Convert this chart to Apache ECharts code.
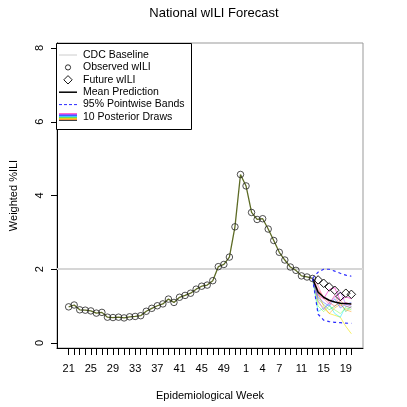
<!DOCTYPE html>
<html>
<head>
<meta charset="utf-8">
<script src="https://cdn.jsdelivr.net/npm/echarts@6/dist/echarts.min.js"></script>
<style>
  html, body { margin: 0; padding: 0; background: #fff; }
  #chart { width: 407px; height: 407px; }
</style>
</head>
<body>
<div id="chart"></div>
<script>
// week labels, season runs from week 21 to week 20 of next year
const weekLabels = [21, 22, 23, 24, 25, 26, 27, 28, 29, 30, 31, 32, 33, 34, 35, 36,
  37, 38, 39, 40, 41, 42, 43, 44, 45, 46, 47, 48, 49, 50, 51, 52,
  1, 2, 3, 4, 5, 6, 7, 8, 9, 10, 11, 12, 13, 14, 15, 16, 17, 18, 19, 20];
const labelIdx = [0, 4, 8, 12, 16, 20, 24, 28, 32, 35, 38, 42, 46, 50];
const yTicks = [0, 2, 4, 6, 8];

const cdcBaseline = 2.0;

// observed wILI, weeks 21 .. 13
const observed = [0.98, 1.03, 0.90, 0.89, 0.87, 0.81, 0.83, 0.70, 0.69, 0.70,
  0.68, 0.71, 0.72, 0.74, 0.86, 0.94, 1.01, 1.06, 1.19, 1.10,
  1.24, 1.29, 1.35, 1.46, 1.54, 1.57, 1.69, 2.07, 2.13, 2.33,
  3.15, 4.57, 4.26, 3.54, 3.35, 3.37, 3.09, 2.78, 2.46, 2.25,
  2.06, 1.97, 1.82, 1.79, 1.75];

// future wILI, weeks 14 .. 20
const future = [1.71, 1.62, 1.52, 1.43, 1.26, 1.35, 1.32];

// forecast, weeks 13 .. 20
const forecastStart = 44;
const meanPred = [1.75, 1.38, 1.24, 1.16, 1.11, 1.08, 1.07, 1.06];
const upperBand = [1.75, 1.92, 2.00, 2.00, 1.95, 1.89, 1.84, 1.81];
const lowerBand = [1.75, 0.78, 0.62, 0.58, 0.56, 0.55, 0.54, 0.53];

const draws = [
  [1.75, 1.30, 1.20, 1.45, 1.50, 1.15, 1.25, 1.20],
  [1.75, 1.55, 1.20, 1.05, 1.30, 1.00, 1.10, 1.05],
  [1.75, 1.10, 0.95, 0.80, 0.75, 0.70, 0.45, 0.25],
  [1.75, 0.85, 0.95, 1.05, 0.80, 0.70, 1.00, 0.95],
  [1.75, 1.00, 0.85, 1.00, 0.90, 0.80, 0.95, 0.90],
  [1.75, 1.20, 1.05, 0.90, 1.00, 1.10, 0.85, 1.00],
  [1.75, 1.35, 1.00, 0.80, 0.95, 1.05, 0.90, 0.85],
  [1.75, 1.25, 1.10, 1.00, 1.20, 0.95, 1.05, 1.10],
  [1.75, 1.45, 1.25, 1.10, 1.00, 1.15, 1.00, 0.95],
  [1.75, 1.15, 0.90, 1.10, 1.25, 1.40, 1.05, 1.00]
];
const drawColors = ['rgba(255,0,200,0.55)', 'rgba(255,80,150,0.5)', 'rgba(240,230,0,0.6)',
  'rgba(0,230,255,0.5)', 'rgba(120,255,60,0.5)', 'rgba(40,200,80,0.5)',
  'rgba(255,150,0,0.5)', 'rgba(60,90,255,0.5)', 'rgba(255,40,40,0.45)',
  'rgba(170,60,255,0.5)'];

const font = 'Liberation Sans, Arial, Helvetica, sans-serif';

const pairs = (arr, start) => arr.map((v, i) => [start + i, v]);

var chart = echarts.init(document.getElementById('chart'));

var series = [];

draws.forEach((d, i) => {
  series.push({
    type: 'line',
    data: pairs(d, forecastStart),
    symbol: 'none',
    lineStyle: { color: drawColors[i], width: 1 },
    z: 2,
    silent: true
  });
});

series.push({
  name: 'observed',
  type: 'line',
  data: pairs(observed, 0),
  symbol: 'circle',
  symbolSize: 6.5,
  lineStyle: { color: '#5d6b25', width: 1.3 },
  itemStyle: { color: 'rgba(0,0,0,0)', borderColor: '#222', borderWidth: 0.8 },
  z: 4,
  markLine: {
    silent: true,
    symbol: 'none',
    label: { show: false },
    lineStyle: { color: '#d6d6d6', width: 2, type: 'solid' },
    data: [{ yAxis: cdcBaseline }],
    z: 1
  }
});

series.push({
  type: 'line',
  data: pairs(meanPred, forecastStart),
  symbol: 'none',
  lineStyle: { color: '#000', width: 1.5 },
  z: 3
});

[upperBand, lowerBand].forEach(b => {
  series.push({
    type: 'line',
    data: pairs(b, forecastStart),
    symbol: 'none',
    lineStyle: { color: '#2b2bff', width: 1.2, type: [3, 3] },
    z: 3
  });
});

series.push({
  type: 'line',
  data: pairs(future, observed.length),
  symbol: 'diamond',
  symbolSize: 8.5,
  lineStyle: { width: 0, opacity: 0 },
  itemStyle: { color: 'rgba(0,0,0,0)', borderColor: '#000', borderWidth: 0.9 },
  z: 5
});

// legend drawn R-style in the top left corner
const lx = 57, ly = 43, row = 12.4, r0 = 55;
const legText = ['CDC Baseline', 'Observed wILI', 'Future wILI', 'Mean Prediction',
  '95% Pointwise Bands', '10 Posterior Draws'];
var graphic = [{
  type: 'rect',
  shape: { x: lx - 0.5, y: ly + 0.5, width: 135, height: 86 },
  style: { fill: '#fff', stroke: '#000', lineWidth: 1 },
  z: 10
}];
legText.forEach((t, i) => {
  graphic.push({
    type: 'text', x: 83, y: r0 + i * row, z: 11,
    style: { text: t, font: '10.5px ' + font, fill: '#000', verticalAlign: 'middle' }
  });
});
graphic.push(
  { type: 'line', z: 11, shape: { x1: 59, y1: r0, x2: 77, y2: r0 }, style: { stroke: '#ccc', lineWidth: 1 } },
  { type: 'circle', z: 11, shape: { cx: 68, cy: r0 + row, r: 2.6 }, style: { fill: 'none', stroke: '#000', lineWidth: 0.8 } },
  { type: 'polygon', z: 11, shape: { points: [[68, r0 + 2 * row - 4.2], [72.2, r0 + 2 * row], [68, r0 + 2 * row + 4.2], [63.8, r0 + 2 * row]] }, style: { fill: 'none', stroke: '#000', lineWidth: 0.9 } },
  { type: 'line', z: 11, shape: { x1: 59, y1: r0 + 3 * row, x2: 77, y2: r0 + 3 * row }, style: { stroke: '#000', lineWidth: 1.5 } },
  { type: 'line', z: 11, shape: { x1: 59, y1: r0 + 4 * row, x2: 77, y2: r0 + 4 * row }, style: { stroke: '#2b2bff', lineWidth: 1, lineDash: [3, 2] } }
);
const stripe = ['#ff66cc', '#a050ff', '#4060ff', '#40c8ff', '#60e060', '#e0d020', '#ff9030', '#404040'];
stripe.forEach((c, i) => {
  graphic.push({ type: 'line', z: 11, shape: { x1: 59, y1: r0 + 5 * row - 3.5 + i, x2: 77, y2: r0 + 5 * row - 3.5 + i }, style: { stroke: c, lineWidth: 1 } });
});

var chartOptions = {
  animation: false,
  backgroundColor: '#fff',
  title: {
    text: 'National wILI Forecast',
    left: 209,
    top: 2,
    textAlign: 'center',
    textStyle: { fontFamily: font, fontSize: 13, fontWeight: 'normal', color: '#000' }
  },
  grid: {
    left: 56, right: 44, top: 43, bottom: 59,
    show: true, borderColor: '#999', borderWidth: 1
  },
  xAxis: {
    type: 'value',
    min: -2.1,
    max: 53.1,
    splitLine: { show: false },
    axisLine: { show: true, onZero: false, lineStyle: { color: '#000' } },
    axisTick: { show: true, length: 7, lineStyle: { color: '#000' }, customValues: weekLabels.map((w, i) => i) },
    axisLabel: {
      customValues: labelIdx,
      formatter: v => String(weekLabels[Math.round(v)]),
      fontFamily: font, fontSize: 11, color: '#000', margin: 15
    },
    name: 'Epidemiological Week',
    nameLocation: 'middle',
    nameGap: 42,
    nameTextStyle: { fontFamily: font, fontSize: 11, color: '#000' }
  },
  yAxis: {
    type: 'value',
    min: -0.136,
    max: 8.136,
    splitLine: { show: false },
    axisLine: { show: true, onZero: false, lineStyle: { color: '#000' } },
    axisTick: { show: true, length: 6, lineStyle: { color: '#000' }, customValues: yTicks },
    axisLabel: {
      customValues: yTicks,
      rotate: 90,
      align: 'center',
      verticalAlign: 'bottom',
      fontFamily: font, fontSize: 11, color: '#000', margin: 12
    },
    name: 'Weighted %ILI',
    nameLocation: 'middle',
    nameGap: 38,
    nameRotate: 90,
    nameTextStyle: { fontFamily: font, fontSize: 11, color: '#000' }
  },
  graphic: graphic,
  series: series
};
chart.setOption(chartOptions);
</script>
</body>
</html>
